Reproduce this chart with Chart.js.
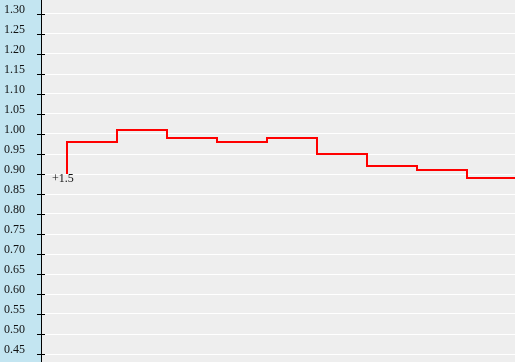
<!DOCTYPE html>
<html>
<head>
<meta charset="utf-8">
<script src="https://cdn.jsdelivr.net/npm/chart.js@4/dist/chart.umd.min.js"></script>
<style>
  html, body { margin: 0; padding: 0; background: #eeeeee; }
  #wrap { width: 515px; height: 362px; }
</style>
</head>
<body>
<div id="wrap"><canvas id="OddsCanvas" width="515" height="362"></canvas></div>
<script>
// steps of the odds line (x = period index, y = odds)
const periods = [0, 1, 2, 3, 4, 5, 6, 7, 8, 9]
const oddsValues = [0.90, 0.98, 1.01, 0.99, 0.98, 0.99, 0.95, 0.92, 0.91, 0.89]
const startLabel = '+1.5'
const yTicks = [0.45, 0.50, 0.55, 0.60, 0.65, 0.70, 0.75, 0.80, 0.85, 0.90, 0.95, 1.00,
                1.05, 1.10, 1.15, 1.20, 1.25, 1.30]

const oddsCanvas = document.getElementById('OddsCanvas')

//------------------------------------------------------------------------------------------------------------
// background band behind the axis, small black tick marks and the start label
//------------------------------------------------------------------------------------------------------------
const chartDecor = {
    id: 'chartDecor',
    beforeDraw(chart) {
        const ctx = chart.ctx
        const area = chart.chartArea
        ctx.save()
        ctx.fillStyle = '#eeeeee'
        ctx.fillRect(0, 0, chart.width, chart.height)
        ctx.fillStyle = '#c3e5f1'
        ctx.fillRect(0, 0, area.left, chart.height)
        ctx.restore()
    },
    afterDraw(chart) {
        const ctx = chart.ctx
        const yScale = chart.scales.y
        const left = chart.chartArea.left
        ctx.save()
        ctx.strokeStyle = '#000'
        ctx.lineWidth = 1
        ctx.beginPath()
        yScale.ticks.forEach((t) => {
            let py = Math.round(yScale.getPixelForValue(t.value)) + 0.5
            ctx.moveTo(left - 4, py)
            ctx.lineTo(left + 4, py)
        })
        ctx.stroke()

        let pt = chart.getDatasetMeta(0).data[0]
        ctx.font = '12px "Liberation Serif", "Times New Roman", serif'
        ctx.fillStyle = '#111'
        ctx.textBaseline = 'alphabetic'
        ctx.fillText(startLabel, pt.x - 15, pt.y + 8)
        ctx.restore()
    }
}

var oddsChart = new Chart(oddsCanvas, {
    type: 'line',
    data: {
        datasets: [{
            label: 'odds',
            data: periods.map((p, i) => ({ x: p, y: oddsValues[i] })),
            stepped: 'after',
            borderColor: '#ff0000',
            borderWidth: 2,
            pointRadius: 0,
            fill: false
        }]
    },
    options: {
        responsive: false,
        animation: false,
        layout: { padding: 0 },
        plugins: {
            legend: { display: false },
            tooltip: { enabled: false }
        },
        scales: {
            x: {
                type: 'linear',
                display: false,
                min: -0.52,
                max: 8.96
            },
            y: {
                type: 'linear',
                min: 0.43,
                max: 1.335,
                afterBuildTicks: (scale) => {
                    scale.ticks = yTicks.map(v => ({ value: v }))
                },
                afterFit: (scale) => {
                    scale.width = 41
                    scale.paddingTop = 0
                    scale.paddingBottom = 0
                },
                grid: {
                    color: '#ffffff',
                    lineWidth: 1,
                    drawTicks: false
                },
                border: { display: true, color: '#000000', width: 1 },
                ticks: {
                    padding: 16,
                    labelOffset: -4,
                    color: '#111',
                    font: { family: '"Liberation Serif", "Times New Roman", serif', size: 12 },
                    callback: (v) => Number(v).toFixed(2)
                }
            }
        }
    },
    plugins: [chartDecor]
})
</script>
</body>
</html>
